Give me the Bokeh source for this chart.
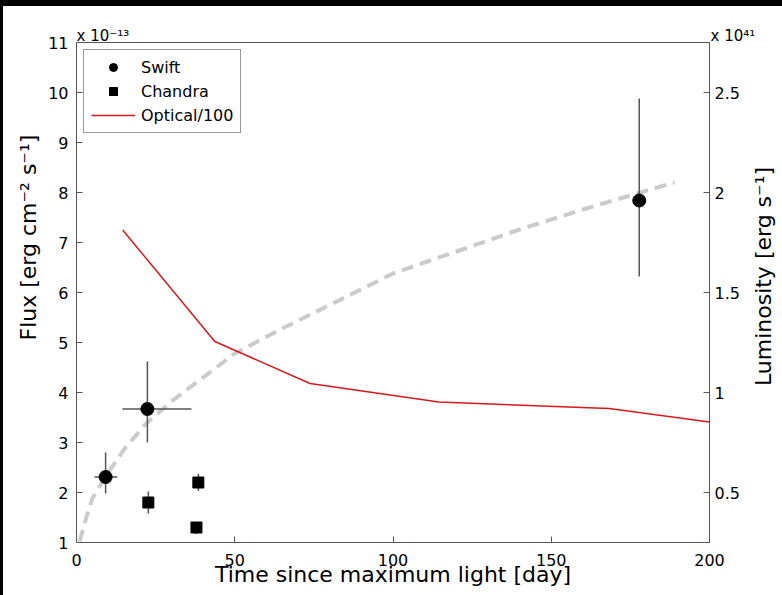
import math
from bokeh.plotting import figure
from bokeh.models import (ColumnDataSource, Range1d, LinearAxis, FixedTicker, Label, Title,
                          Legend, LegendItem, CustomJSTickFormatter, Spacer)
from bokeh.layouts import column, row
from bokeh.embed import file_html
from bokeh.resources import INLINE

# ---------------- data ----------------
swift_t = [9.2, 22.4, 177.8]
swift_f = [2.31, 3.67, 7.84]
swift_t_lo = [5.7, 14.5, 177.8]
swift_t_hi = [12.9, 36.3, 177.8]
swift_f_lo = [1.98, 3.00, 6.32]
swift_f_hi = [2.80, 4.62, 9.88]

chandra_t = [22.7, 37.9, 38.5]
chandra_f = [1.80, 1.30, 2.20]
chandra_f_lo = [1.58, 1.17, 2.03]
chandra_f_hi = [2.02, 1.40, 2.37]

optical_t = [14.6, 43.7, 73.8, 114.5, 168.3, 200.0]
optical_f = [7.25, 5.02, 4.18, 3.81, 3.68, 3.41]

model_t = [1.0, 3.0, 5.0, 9.0, 15.0, 22.0, 30.0, 40.0, 50.0, 65.0, 80.0,
           100.0, 120.0, 140.0, 160.0, 177.0, 189.0]
model_f = [1.02, 1.48, 1.88, 2.30, 2.86, 3.38, 3.82, 4.30, 4.78, 5.28, 5.75,
           6.38, 6.82, 7.26, 7.66, 7.98, 8.20]

x_ticks = [0, 50, 100, 150, 200]
flux_ticks = [1, 2, 3, 4, 5, 6, 7, 8, 9, 10, 11]
lum_ticks = [0.5, 1, 1.5, 2, 2.5]

FONT = "DejaVu Sans"
AX = "#555555"

p = figure(width=779, height=589, output_backend="svg", toolbar_location=None,
           x_range=Range1d(0, 200), y_range=Range1d(1, 11),
           min_border_left=73, min_border_right=73, min_border_top=36, min_border_bottom=53,
           background_fill_color="white", border_fill_color="white")
p.extra_y_ranges = {"lum": Range1d(0.25, 2.75)}
p.grid.visible = False
p.outline_line_color = AX
p.outline_line_width = 1

# axes
xa = p.xaxis[0]
xa.ticker = FixedTicker(ticks=x_ticks)
xa.axis_label = "Time since maximum light [day]"
ya = p.yaxis[0]
ya.ticker = FixedTicker(ticks=flux_ticks)
ra = LinearAxis(y_range_name="lum", ticker=FixedTicker(ticks=lum_ticks),
                formatter=CustomJSTickFormatter(code="return tick.toString()"))
p.add_layout(ra, "right")
for a in (xa, ya, ra):
    a.axis_line_color = AX
    a.major_tick_line_color = AX
    a.major_tick_in = 6
    a.major_tick_out = 0
    a.minor_tick_line_color = None
    a.major_label_text_font = FONT
    a.major_label_text_font_size = "16px"
    a.major_label_text_color = "black"
    a.axis_label_text_font = FONT
    a.axis_label_text_font_size = "22px"
    a.axis_label_text_font_style = "normal"
    a.axis_label_text_color = "black"
xa.major_label_standoff = 11
xa.axis_label_standoff = -7
ya.major_label_standoff = 8
ra.major_label_standoff = 5

# left y-axis title (side panel, so it is not clipped)
p.add_layout(Title(text="Flux [erg cm\u207b\u00b2 s\u207b\u00b9]", align="left", offset=202,
                   standoff=9, text_font=FONT, text_font_size="22px",
                   text_font_style="normal", text_color="black"), "left")

# right y-axis label, reading bottom to top
p.add_layout(Label(x=200, y=6.32, x_offset=54, angle=math.pi / 2, text_align="center",
                   text_baseline="middle", text="Luminosity [erg s\u207b\u00b9]",
                   text_font=FONT, text_font_size="22px", text_color="black"), "right")

# model curve (grey dashed)
p.line(model_t, model_f, line_color="#cbcbcb", line_width=4, line_dash="12 7")

# optical / 100
opt_r = p.line(optical_t, optical_f, line_color="#d7191c", line_width=1.5)

# error bars
sw_src = ColumnDataSource(dict(t=swift_t, f=swift_f, tlo=swift_t_lo, thi=swift_t_hi,
                               flo=swift_f_lo, fhi=swift_f_hi))
ch_src = ColumnDataSource(dict(t=chandra_t, f=chandra_f, flo=chandra_f_lo, fhi=chandra_f_hi))
p.segment(x0="t", y0="flo", x1="t", y1="fhi", source=sw_src, line_color=AX, line_width=1.5)
p.segment(x0="tlo", y0="f", x1="thi", y1="f", source=sw_src, line_color=AX, line_width=1.5)
p.segment(x0="t", y0="flo", x1="t", y1="fhi", source=ch_src, line_color=AX, line_width=1.5)

sw_r = p.scatter(x="t", y="f", source=sw_src, marker="circle", size=13,
                 fill_color="black", line_color="black")
ch_r = p.scatter(x="t", y="f", source=ch_src, marker="square", size=11,
                 fill_color="black", line_color="black")

legend = Legend(items=[LegendItem(label="Swift", renderers=[sw_r]),
                       LegendItem(label="Chandra", renderers=[ch_r]),
                       LegendItem(label="Optical/100", renderers=[opt_r])],
                location="top_left")
legend.margin = 7
legend.padding = 7
legend.spacing = 4
legend.glyph_width = 44
legend.glyph_height = 20
legend.label_height = 20
legend.label_standoff = 6
legend.label_text_font = FONT
legend.label_text_font_size = "16px"
legend.label_text_color = "black"
legend.border_line_color = "#333333"
legend.border_line_width = 1
legend.background_fill_color = "white"
legend.background_fill_alpha = 1
p.add_layout(legend)

# multiplier texts (in the top side panel so they are not clipped)
def lab(**kw):
    base = dict(text_font=FONT, text_color="black", text_baseline="alphabetic", text_align="left")
    base.update(kw)
    p.add_layout(Label(**base), "above")

lab(x=0, y=11, x_offset=0, y_offset=7, text="x 10\u207b\u00b9\u00b3", text_font_size="15px")
lab(x=200, y=11, x_offset=1, y_offset=7, text="x 10\u2074\u00b9", text_font_size="15px")

layout = column(Spacer(width=782, height=6, styles={"background-color": "black"}),
                row(Spacer(width=3, height=589, styles={"background-color": "black"}), p))

open("out.html", "w").write(file_html(layout, INLINE))
